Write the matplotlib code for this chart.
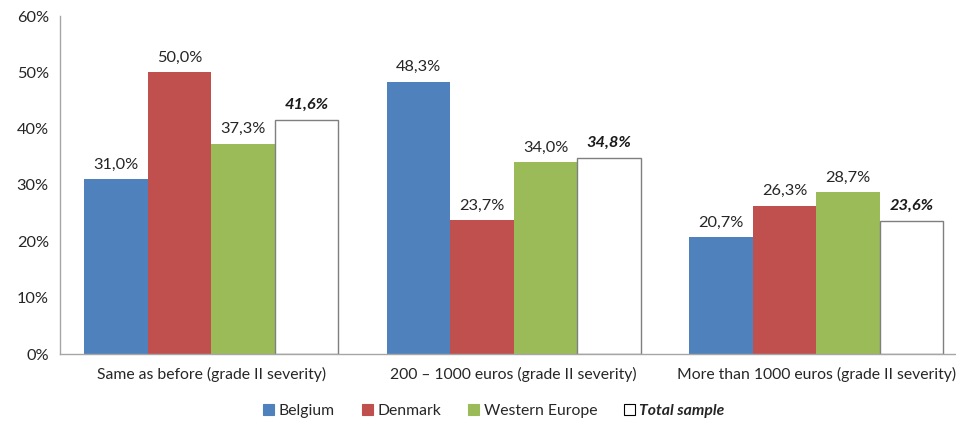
import matplotlib

matplotlib.use("Agg")
import matplotlib.pyplot as plt
import numpy as np
from matplotlib.patches import Patch

categories = [
    "Same as before (grade II severity)",
    "200 \u2013 1000 euros (grade II severity)",
    "More than 1000 euros (grade II severity)",
]
series_names = ["Belgium", "Denmark", "Western Europe", "Total sample"]
belgium = [31.0, 48.3, 20.7]
denmark = [50.0, 23.7, 26.3]
western_europe = [37.3, 34.0, 28.7]
total_sample = [41.6, 34.8, 23.6]
yticks = [0, 10, 20, 30, 40, 50, 60]

colors = ["#4f81bd", "#c0504d", "#9bbb59", "#ffffff"]
plt.rcParams["font.family"] = ["Lato", "DejaVu Sans"]
FS = 11.8
FS_X = 11.3


def fmt(v):
    return f"{v:.1f}%".replace(".", ",")


fig = plt.figure(figsize=(9.56, 4.30), dpi=100)
ax = fig.add_axes([60 / 956, 76 / 430, 896 / 956, 338 / 430])

x = np.arange(len(categories))
w = 0.21
all_series = [belgium, denmark, western_europe, total_sample]
for i, (vals, col) in enumerate(zip(all_series, colors)):
    pos = x + (i - 1.5) * w
    edge = "#7f7f7f" if i == 3 else col
    ax.bar(pos, vals, width=w, color=col, edgecolor=edge, linewidth=1.0 if i == 3 else 0)
    for px, v in zip(pos, vals):
        if i == 3:
            ax.text(px, v + 1.4, fmt(v), ha="center", va="bottom", fontsize=FS,
                    fontweight="bold", fontstyle="italic", color="#1a1a1a")
        else:
            ax.text(px, v + 1.4, fmt(v), ha="center", va="bottom", fontsize=FS,
                    color="#262626")

ax.set_xlim(-0.5, 2.462)
ax.set_ylim(0, 60)
ax.set_yticks(yticks)
ax.set_yticklabels([f"{t}%" for t in yticks], fontsize=FS, color="#262626")
ax.set_xticks(x)
ax.set_xticklabels(categories, fontsize=FS_X, color="#262626")
ax.tick_params(axis="both", length=0, pad=8)
ax.tick_params(axis="x", pad=9)
for s in ["top", "right"]:
    ax.spines[s].set_visible(False)
for s in ["left", "bottom"]:
    ax.spines[s].set_color("#a6a6a6")
    ax.spines[s].set_linewidth(1.0)

handles = [Patch(facecolor=c, edgecolor=("#000000" if i == 3 else c), linewidth=0.8)
           for i, c in enumerate(colors)]
leg = fig.legend(handles, series_names, loc="center", bbox_to_anchor=(494 / 956, 1 - 411 / 430),
                 ncol=4, frameon=False, fontsize=FS_X, handlelength=0.7, handleheight=0.7,
                 handletextpad=0.3, columnspacing=1.7)
for t in leg.get_texts():
    t.set_color("#262626")
leg.get_texts()[3].set_fontweight("bold")
leg.get_texts()[3].set_fontstyle("italic")

fig.savefig("out.png", dpi=100)
